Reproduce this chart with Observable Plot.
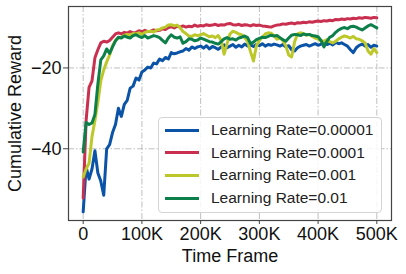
<!DOCTYPE html>
<html>
<head>
<meta charset="utf-8">
<script src="https://cdn.jsdelivr.net/npm/d3@7"></script>
<script src="https://cdn.jsdelivr.net/npm/@observablehq/plot@0.6"></script>
<style>
  html, body { margin: 0; padding: 0; background: #fff; }
  #wrap { position: relative; width: 406px; height: 274px; font-family: "Liberation Sans", Arial, sans-serif; }
  #legend { position: absolute; left: 158px; top: 117px; width: 222px; height: 94px; border: 1px solid #d4d4d4; border-radius: 4px; background: rgba(255,255,255,0.85); box-sizing: content-box; }
  .row { position: absolute; left: 0; height: 22px; display: flex; align-items: center; font-size: 15.5px; color: #222; white-space: nowrap; }
  .sw { width: 34px; height: 3px; margin-left: 6px; margin-right: 12px; }
</style>
</head>
<body>
<div id="wrap"></div>
<script>
const seriesNames = ["Learning Rate=0.00001", "Learning Rate=0.0001", "Learning Rate=0.001", "Learning Rate=0.01"];
const seriesColors = ["#0b53a7", "#c9304f", "#bcc82a", "#0d7f4b"];
const xTicks = [0, 100000, 200000, 300000, 400000, 500000];
const xTickLabels = ["0", "100K", "200K", "300K", "400K", "500K"];
const yTicks = [-20, -40];

const frames = [0,5,10,15,20,25,30,35,40,45,50,55,60,65,70,75,80,85,90,95,
  100,105,110,115,120,125,130,135,140,145,150,155,160,165,170,175,180,185,190,195,
  200,205,210,215,220,225,230,235,240,245,250,255,260,265,270,275,280,285,290,295,
  300,305,310,315,320,325,330,335,340,345,350,355,360,365,370,375,380,385,390,395,
  400,405,410,415,420,425,430,435,440,445,450,455,460,465,470,475,480,485,490,495,500];

const lr00001 = [-55.6,-44.5,-47.5,-45,-40.5,-46,-48,-51.5,-40,-39,-36,-34,-30,-32,-29,-28,-25,-24.5,-22.5,-23,
  -21,-20.5,-19.8,-20,-18.8,-19,-17.8,-18.2,-17.4,-17.8,-16.2,-16.5,-16.3,-16,-15.8,-15.2,-15.6,-14.8,-15.2,-14.8,
  -14.6,-15.1,-14.5,-15.3,-14.7,-15.0,-15.4,-14.8,-14.3,-15.0,-14.6,-14.2,-14.9,-14.4,-14.8,-14.1,-14.6,-14.3,-14.7,-14.2,
  -14.5,-14.0,-14.6,-14.2,-14.4,-14.1,-14.3,-14.6,-14.2,-14.8,-14.5,-15.5,-15.8,-15.0,-14.6,-14.4,-14.2,-14.6,-14.3,-14.0,
  -14.4,-14.1,-13.8,-14.2,-13.9,-14.3,-13.7,-14.0,-13.8,-14.2,-14.6,-15.5,-16.2,-15.0,-14.4,-14.1,-14.6,-14.2,-14.9,-14.4,-14.6];

const lr0001 = [-52.2,-33,-24.8,-23.2,-17.5,-15.5,-13.8,-13.4,-13.6,-13.2,-12.4,-11.6,-11.3,-11.6,-11.2,-11.4,-11.0,-11.3,-11.2,-10.8,
  -11.1,-10.7,-11.0,-10.9,-10.6,-10.8,-10.7,-10.3,-10.5,-10.0,-9.8,-10.1,-9.7,-9.9,-9.6,-9.9,-9.7,-9.8,-9.4,-9.7,
  -9.5,-9.6,-9.3,-9.5,-9.4,-9.2,-9.5,-9.3,-9.4,-9.1,-9.0,-9.3,-9.4,-9.2,-9.5,-9.3,-9.4,-9.6,-9.3,-9.5,
  -9.4,-9.6,-9.7,-9.8,-9.9,-9.6,-9.4,-9.3,-9.1,-9.2,-9.0,-8.9,-9.1,-8.8,-8.9,-8.7,-8.8,-8.6,-8.7,-8.5,
  -8.4,-8.5,-8.3,-8.4,-8.2,-8.3,-8.0,-8.1,-7.9,-8.0,-7.8,-7.9,-7.7,-7.8,-7.6,-7.7,-7.5,-7.6,-7.7,-7.5,-7.6];

const lr001 = [-47,-45,-43.6,-37,-33,-28.5,-23.2,-20.5,-18.5,-16.8,-14.5,-13.2,-12.6,-12.4,-11.9,-11.7,-11.9,-11.5,-11.6,-11.3,
  -11.7,-11.2,-11.0,-10.9,-11.1,-10.6,-10.5,-10.1,-9.9,-9.4,-9.3,-9.6,-9.4,-10.0,-11.0,-11.5,-12.1,-12.2,-11.8,-12.0,
  -11.8,-11.5,-11.9,-12.3,-12.1,-12.5,-12.0,-13.2,-16.6,-14.0,-11.6,-10.9,-11.2,-11.6,-11.8,-12.5,-13.5,-16.0,-18.3,-14.5,
  -13.2,-12.4,-11.6,-11.3,-11.4,-12.0,-12.9,-12.6,-13.2,-14.5,-16.8,-17.3,-13.5,-11.6,-11.3,-11.5,-11.9,-11.7,-12.2,-12.6,
  -12.9,-13.3,-13.4,-13.0,-13.5,-13.8,-13.4,-12.8,-12.4,-12.1,-12.3,-12.6,-12.2,-12.8,-12.9,-13.3,-13.8,-15.8,-16.6,-15.2,-16.2];

const lr01 = [-40.8,-33.5,-34,-33.6,-31.5,-24,-18,-17,-15.3,-16.4,-14.8,-13.3,-12.4,-12.6,-12.1,-12.4,-12.6,-12.0,-11.8,-12.2,
  -12.5,-12.0,-12.6,-12.3,-12.0,-12.2,-12.5,-13.2,-13.8,-12.6,-11.8,-12.4,-12.6,-12.3,-13.9,-13.5,-12.8,-12.9,-13.3,-13.1,
  -12.6,-12.9,-13.2,-13.5,-13.6,-13.9,-14.1,-13.5,-12.8,-12.5,-12.9,-12.8,-13.1,-12.6,-12.4,-12.1,-12.5,-14.0,-13.6,-13.0,
  -12.7,-12.4,-12.5,-12.2,-11.9,-12.1,-12.0,-12.5,-13.0,-13.4,-12.6,-11.9,-11.7,-11.8,-12.0,-11.6,-11.8,-11.7,-12.0,-12.1,
  -12.3,-13.2,-14.8,-13.4,-12.4,-12.0,-11.2,-10.6,-10.2,-10.0,-10.3,-9.8,-9.7,-9.9,-10.3,-10.6,-10.1,-9.6,-9.3,-9.7,-10.1];

const allSeries = [lr00001, lr0001, lr001, lr01];
const rows = [];
allSeries.forEach((vals, si) => {
  vals.forEach((v, i) => rows.push({t: frames[i] * 1000, v, s: seriesNames[si]}));
});

const font = "'Liberation Sans', Arial, sans-serif";

const chart = Plot.plot({
  width: 406,
  height: 274,
  marginLeft: 68,
  marginRight: 15,
  marginTop: 6,
  marginBottom: 54,
  style: {fontFamily: font, background: "white", overflow: "visible"},
  x: {domain: [-25000, 525000]},
  y: {domain: [-57.75, -4.8]},
  color: {domain: seriesNames, range: seriesColors},
  marks: [
    Plot.gridX(xTicks, {stroke: "#b8b8b8", strokeOpacity: 1, strokeWidth: 0.9, strokeDasharray: "6,2,1.5,2"}),
    Plot.gridY(yTicks, {stroke: "#b8b8b8", strokeOpacity: 1, strokeWidth: 0.9, strokeDasharray: "6,2,1.5,2"}),
    Plot.line(rows, {x: "t", y: "v", z: "s", stroke: "s", strokeWidth: 3, strokeLinejoin: "round", strokeLinecap: "round"}),
    Plot.frame({stroke: "#444", strokeWidth: 1.2}),
    Plot.axisX(xTicks, {tickFormat: (d) => xTickLabels[xTicks.indexOf(d)], tickSize: 4, tickPadding: 3, fontSize: 18, stroke: "#444", fill: "#111", label: null}),
    Plot.axisY(yTicks, {tickSize: 5, tickPadding: 2, fontSize: 18, stroke: "#444", fill: "#111", label: null}),
    Plot.text(["Time Frame"], {frameAnchor: "bottom", dy: 36, textAnchor: "middle", lineAnchor: "middle", fontSize: 18, fill: "#111"}),
    Plot.text(["Cumulative Reward"], {frameAnchor: "left", dx: -53, rotate: -90, textAnchor: "middle", lineAnchor: "middle", fontSize: 18, fill: "#111"})
  ]
});

const wrap = document.getElementById("wrap");
wrap.appendChild(chart);

const legend = document.createElement("div");
legend.id = "legend";
seriesNames.forEach((name, i) => {
  const r = document.createElement("div");
  r.className = "row";
  r.style.top = (1 + i * 22.7) + "px";
  const sw = document.createElement("div");
  sw.className = "sw";
  sw.style.background = seriesColors[i];
  const tx = document.createElement("span");
  tx.textContent = name;
  r.appendChild(sw);
  r.appendChild(tx);
  legend.appendChild(r);
});
wrap.appendChild(legend);
</script>
</body>
</html>
